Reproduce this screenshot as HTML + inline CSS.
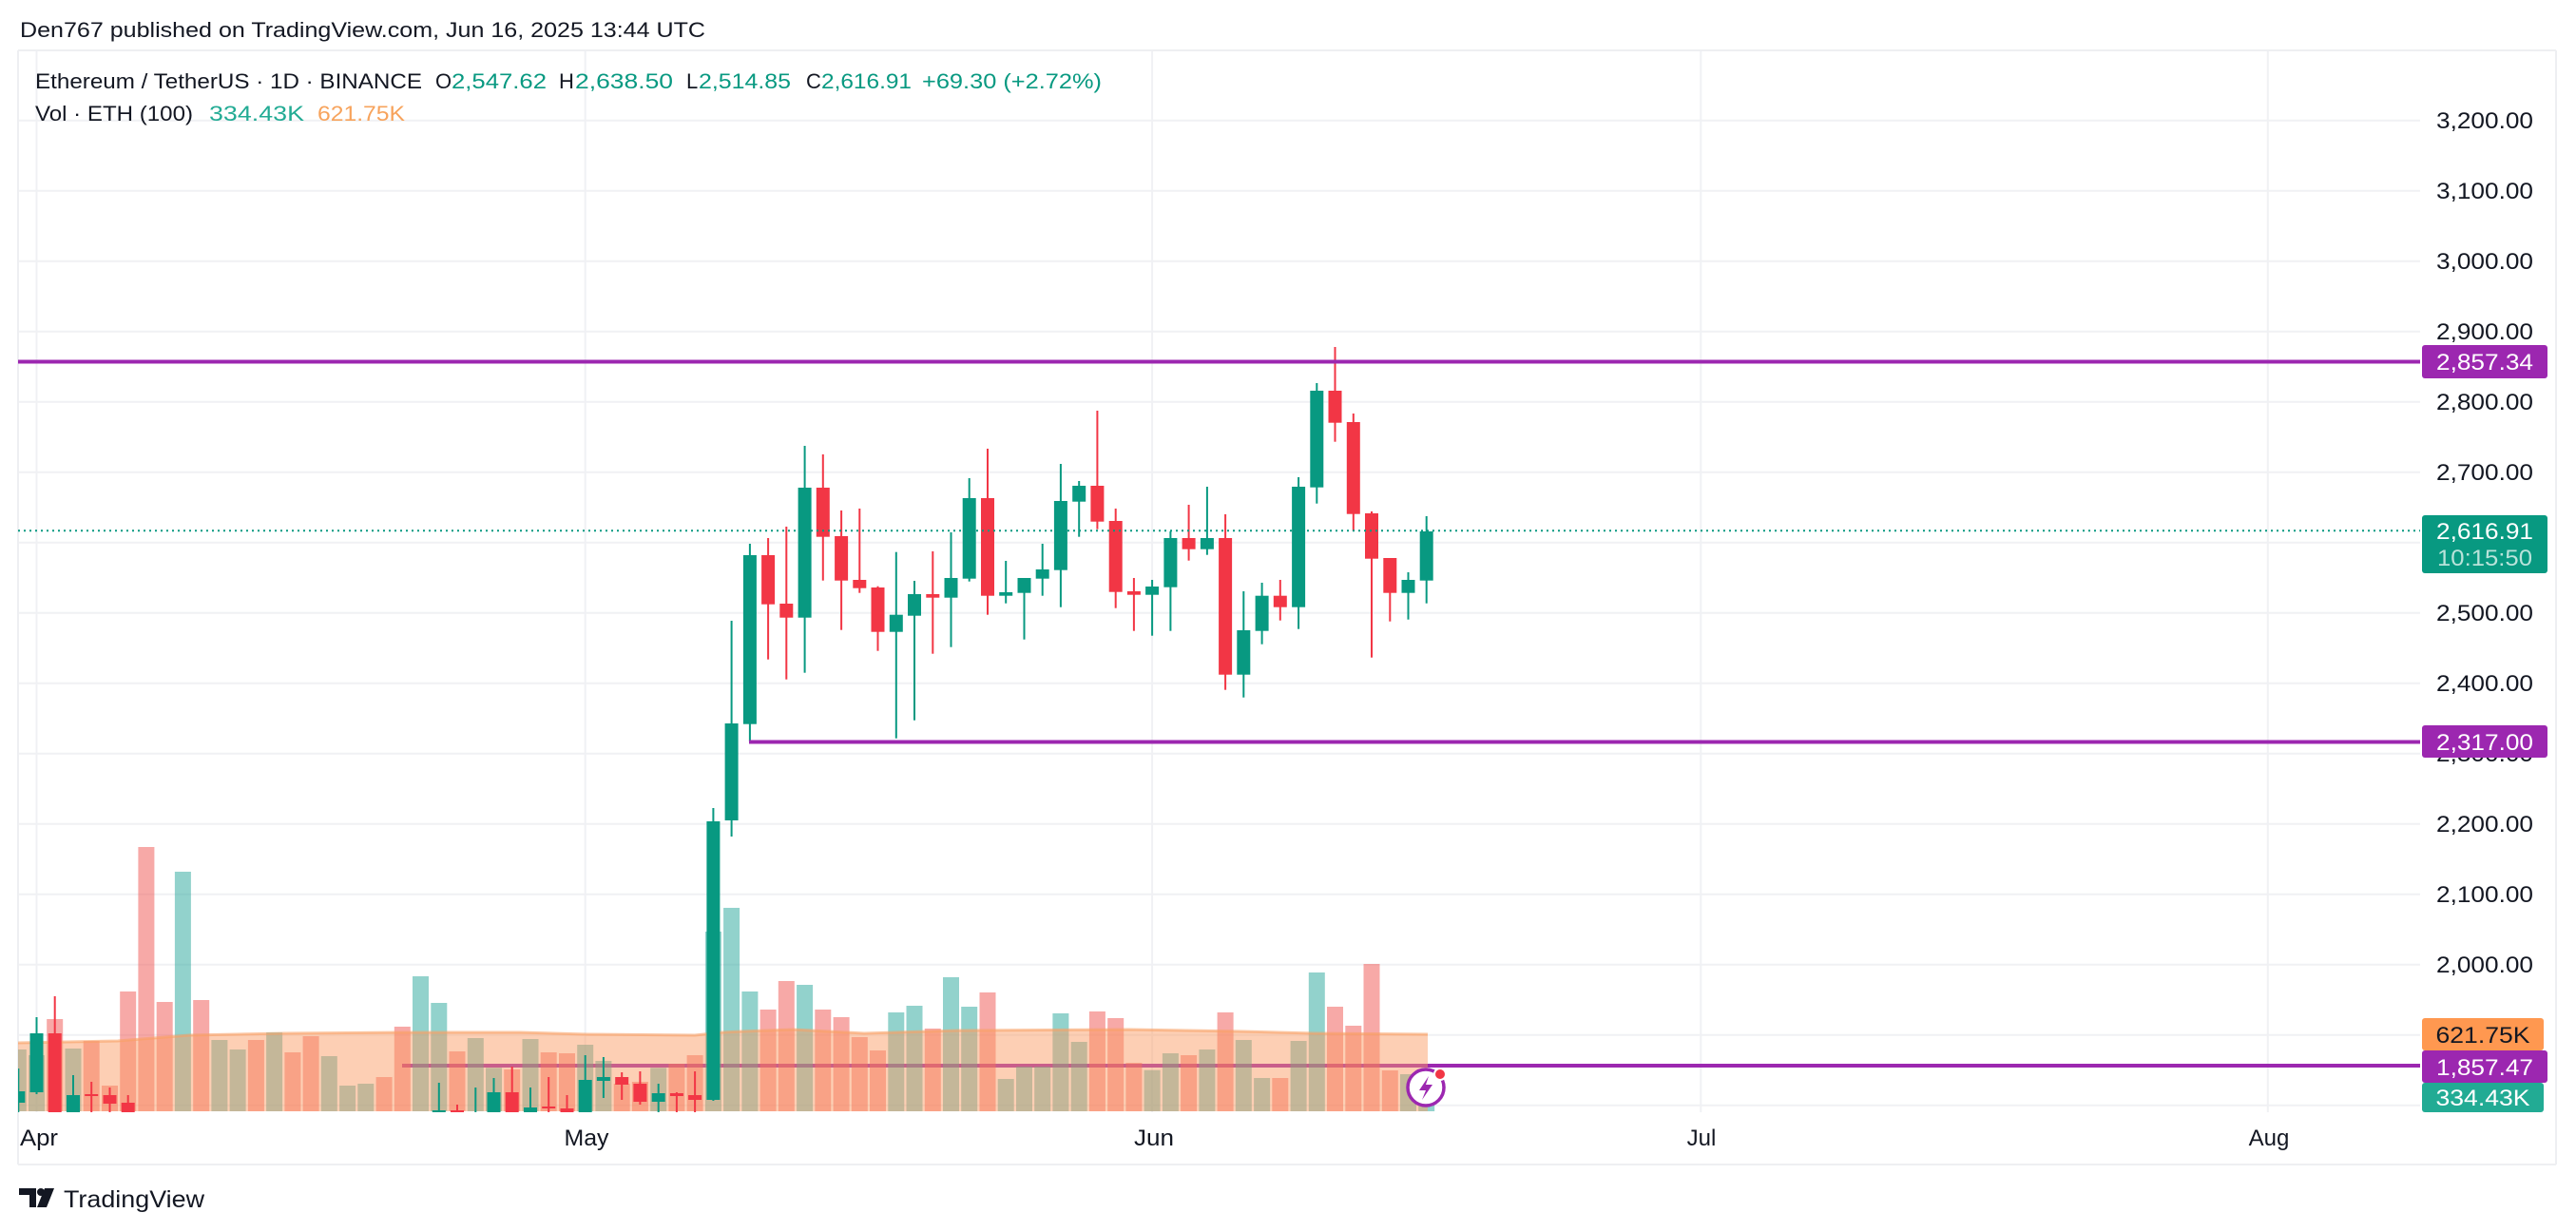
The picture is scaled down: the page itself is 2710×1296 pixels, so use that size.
<!DOCTYPE html>
<html><head><meta charset="utf-8">
<style>
html,body{margin:0;padding:0;background:#fff;}
svg{display:block;font-family:"Liberation Sans",Arial,sans-serif;}
</style></head>
<body>
<svg id="c" width="2710" height="1296" viewBox="0 0 2710 1296" xmlns="http://www.w3.org/2000/svg">
<rect width="2710" height="1296" fill="#fff"/>
<g id="grid"></g>
<g id="plot"></g>
<g id="labels"></g>
</svg>
<script>
(function(){
let s="";
const X=d=>38.5+d*19.24;
const PY=p=>422.7+(2800-p)*0.74;
let g="";
for(let p=3200;p>=1800;p-=100){const y=PY(p).toFixed(1);g+=`<line x1="19" y1="${y}" x2="2546" y2="${y}" stroke="#f0f1f4" stroke-width="2"/>`;}
[0,30,61,91,122].forEach(d=>{const x=X(d).toFixed(1);g+=`<line x1="${x}" y1="53" x2="${x}" y2="1170" stroke="#f0f1f4" stroke-width="2"/>`;});
g+=`<line x1="19" y1="53" x2="2689" y2="53" stroke="#eeeff2" stroke-width="2"/>`;
g+=`<line x1="19" y1="1225" x2="2689" y2="1225" stroke="#eeeff2" stroke-width="2"/>`;
g+=`<line x1="19" y1="53" x2="19" y2="1225" stroke="#eeeff2" stroke-width="2"/>`;
g+=`<line x1="2689" y1="53" x2="2689" y2="1225" stroke="#eeeff2" stroke-width="2"/>`;
document.getElementById('grid').innerHTML=g;

s+=`<defs><clipPath id="cp"><rect x="19" y="53" width="2527" height="1117"/></clipPath></defs><g clip-path="url(#cp)">`;
s+=`<line x1="423" y1="1121" x2="2546" y2="1121" stroke="#9c27b0" stroke-width="4"/>`;
const v1=[[732,'g'],[750,'g'],[636,'r'],[729,'g'],[705,'r'],[846,'r'],[549,'r'],[93,'r'],[582,'r'],[171,'g'],[576,'r'],[702,'g'],[732,'g'],[702,'r'],[678,'g'],[741,'r'],[690,'r'],[753,'g'],[846,'g'],[840,'g'],[819,'r'],[660,'r'],[501,'g'],[585,'g'],[738,'r'],[696,'g'],[790,'g'],[795,'r'],[699,'g'],[741,'r'],[744,'r'],[717,'g'],[768,'g'],[840,'r'],[834,'r'],[790,'g'],[777,'r'],[750,'r'],[360,'g'],
[285,'g'],[549,'g'],[606,'r'],[516,'r'],[528,'g'],[606,'r'],[630,'r'],[693,'r'],[735,'r'],[615,'g'],[594,'g'],[666,'r'],[504,'g'],[597,'g'],[552,'r'],[825,'g'],[786,'g'],[786,'g'],[618,'g'],[708,'g'],[612,'r'],[633,'r'],[774,'r'],[797,'g'],[744,'g'],[750,'r'],[732,'g'],[615,'r'],[702,'g'],[822,'g'],[822,'r'],[705,'g'],[489,'g'],[597,'r'],[657,'r'],[462,'r'],[798,'r'],[810,'g'],[795,'g']];
v1.forEach((b,i)=>{const d=i-1;const top=860+b[0]/3;const x=X(d)-8.5;
s+=`<rect x="${x.toFixed(1)}" y="${top.toFixed(1)}" width="17" height="${(1169-top).toFixed(1)}" fill="${b[1]=='g'?'rgba(38,166,154,0.5)':'rgba(239,83,80,0.5)'}"/>`;});
const ma=[[19,1097],[124,1095],[199,1089],[299,1087],[423,1086],[547,1086],[617,1088],[731,1089],[760,1086],[780,1085],[835,1083],[909,1087],[1009,1084],[1188,1083],[1307,1085],[1382,1087],[1502,1088]];
let pts=ma.map(p=>p.join(',')).join(' ');
s+=`<polygon points="19,1169 ${pts} 1502,1169" fill="rgba(251,155,99,0.48)"/>`;
s+=`<polyline points="${pts}" fill="none" stroke="rgba(248,160,100,0.6)" stroke-width="3"/>`;
const G="#089981",R="#f23645";
function candle(d,c,bt,bb,wt,wb){const x=X(d);const col=c=='g'?G:R;
s+=`<rect x="${(x-1).toFixed(1)}" y="${wt.toFixed(1)}" width="2" height="${Math.max(0,wb-wt).toFixed(1)}" fill="${col}"/>`;
s+=`<rect x="${(x-7).toFixed(1)}" y="${bt.toFixed(1)}" width="14" height="${Math.max(2,bb-bt).toFixed(1)}" fill="${col}"/>`;}
const z4=[[-1,'g',864,900,792,940],[0,'g',681,867,630,873],[1,'r',681,940,564,940],[2,'g',876,940,813,940],[3,'r',873,879,834,940],[4,'r',876,903,852,940],[5,'r',900,940,876,940],
[22,'g',924,940,837,940],[23,'r',924,940,906,940],[24,'g',930,940,852,940],[25,'g',867,940,822,940],[26,'r',867,940,786,940],[27,'g',915,940,852,940],[28,'r',912,918,819,940],[29,'r',918,940,876,940],[30,'g',828,940,750,940],[31,'g',819,831,756,885],[32,'r',819,843,804,891],[33,'r',840,897,801,906],[34,'g',870,897,840,940],[35,'r',870,879,867,940],[36,'r',876,891,801,940]];
z4.forEach(c=>candle(c[0],c[1],860+c[2]/3,860+c[3]/3,860+c[4]/3,860+c[5]/3));
candle(37,'g',864,1157,850,1158);
candle(38,'g',761,863,653,880);
const z2=[['g',702,1235,666,1290],['r',702,857,648,1031],['r',855,899,612,1094],['g',489,899,357,1073],['r',489,644,384,782],['r',642,782,561,938],['r',780,806,555,821],['r',804,944,800,1004],['g',890,944,692,1280],['g',825,893,783,1223],['r',825,836,690,1013],['g',774,836,630,992],['g',522,776,459,785],['r',522,830,366,890],['g',819,830,720,854],['g',774,821,774,968],['g',747,776,666,830],['g',531,749,414,866],['g',483,533,468,644],['r',483,596,246,620],['r',594,818,555,869],['r',816,827,774,941],['g',801,827,780,956],['g',648,803,627,941],['r',648,683,543,719],['g',648,683,486,701],['r',648,1079,573,1127],['g',939,1079,816,1151],['g',830,941,789,983],['r',830,866,780,908],['g',486,866,456,935],['g',183,488,159,539],['r',183,284,45,344],['r',282,572,255,626],['r',570,713,564,1025],['r',711,821,711,911],['g',780,821,756,905],['g',627,782,579,854]];
z2.forEach((c,i)=>candle(39+i,c[0],350+c[1]/3,350+c[2]/3,350+c[3]/3,350+c[4]/3));
s+=`<line x1="19" y1="558.2" x2="2546" y2="558.2" stroke="${G}" stroke-width="2" stroke-dasharray="2,4"/>`;
s+=`<line x1="19" y1="380.5" x2="2546" y2="380.5" stroke="#9c27b0" stroke-width="4"/>`;
s+=`<line x1="788" y1="780.5" x2="2546" y2="780.5" stroke="#9c27b0" stroke-width="4"/>`;
s+=`</g>`;
s+=`<circle cx="1500" cy="1144" r="19" fill="#fff" stroke="#9c27b0" stroke-width="3.5"/>`;
s+=`<path d="M1503,1132 L1493,1147 L1500,1147 L1496,1157 L1507,1141 L1500,1141 Z" fill="#9c27b0"/>`;
s+=`<circle cx="1515" cy="1130" r="6" fill="#f23645" stroke="#fff" stroke-width="2"/>`;
document.getElementById('plot').innerHTML=s;

let t="";
const txt=(x,y,str,opt)=>{opt=opt||{};return `<text x="${x}" y="${y}" font-size="${opt.fs||22}" fill="${opt.fill||'#131722'}" ${opt.anchor?`text-anchor="${opt.anchor}"`:''} ${opt.len?`textLength="${opt.len}" lengthAdjust="spacingAndGlyphs"`:''}>${str}</text>`;};
t+=txt(21,39,"Den767 published on TradingView.com, Jun 16, 2025 13:44 UTC",{fs:22,len:721});
t+=txt(37,93,"Ethereum / TetherUS · 1D · BINANCE",{fs:22,len:407});
t+=txt(458,93,"O",{fs:22});t+=txt(475,93,"2,547.62",{fs:22,fill:G,len:100});
t+=txt(588,93,"H",{fs:22});t+=txt(605,93,"2,638.50",{fs:22,fill:G,len:103});
t+=txt(722,93,"L",{fs:22});t+=txt(735,93,"2,514.85",{fs:22,fill:G,len:97});
t+=txt(848,93,"C",{fs:22});t+=txt(864,93,"2,616.91",{fs:22,fill:G,len:95});
t+=txt(970,93,"+69.30 (+2.72%)",{fs:22,fill:G,len:189});
t+=txt(37,127,"Vol · ETH (100)",{fs:22,len:166});
t+=txt(220,127,"334.43K",{fs:22,fill:'#22ab94',len:100});
t+=txt(334,127,"621.75K",{fs:22,fill:'#f7a35c',len:92});
for(let p=3200;p>=2000;p-=100){const y=PY(p)+8.5;const str=p.toLocaleString('en-US')+".00";t+=txt(2614,y.toFixed(1),str,{fs:24,anchor:'middle',len:102});}
const box=(y1,y2,col,w)=>`<rect x="2548" y="${y1}" width="${w||132}" height="${y2-y1}" rx="3" fill="${col}"/>`;
t+=box(363,398,'#9c27b0');t+=txt(2614,389,"2,857.34",{fs:24,fill:'#fff',anchor:'middle',len:102});
t+=box(763,797,'#9c27b0');t+=txt(2614,789,"2,317.00",{fs:24,fill:'#fff',anchor:'middle',len:102});
t+=box(542,603,'#089981');t+=txt(2614,567,"2,616.91",{fs:24,fill:'#fff',anchor:'middle',len:102});
t+=txt(2614,595,"10:15:50",{fs:24,fill:'#b9e3da',anchor:'middle',len:100});
t+=box(1071,1105,'#ff9850',128);t+=txt(2612,1097,"621.75K",{fs:24,fill:'#131722',anchor:'middle',len:99});
t+=box(1105,1139,'#9c27b0');t+=txt(2614,1131,"1,857.47",{fs:24,fill:'#fff',anchor:'middle',len:102});
t+=box(1139,1170,'#22ab94',128);t+=txt(2612,1163,"334.43K",{fs:24,fill:'#fff',anchor:'middle',len:99});
t+=txt(21,1205,"Apr",{fs:24,len:40});
t+=txt(617,1205,"May",{fs:24,anchor:'middle',len:47});
t+=txt(1214,1205,"Jun",{fs:24,anchor:'middle',len:42});
t+=txt(1790,1205,"Jul",{fs:24,anchor:'middle'});
t+=txt(2387,1205,"Aug",{fs:24,anchor:'middle'});
t+=`<path d="M20,1250 H38 V1270 H31 V1257 H20 Z" fill="#131722"/><circle cx="43" cy="1254" r="4" fill="#131722"/><path d="M47,1250 H57 L49,1270 H39 Z" fill="#131722"/>`;
t+=txt(67,1270,"TradingView",{fs:25,len:148});
document.getElementById('labels').innerHTML=t;
})();
</script>
</body></html>
